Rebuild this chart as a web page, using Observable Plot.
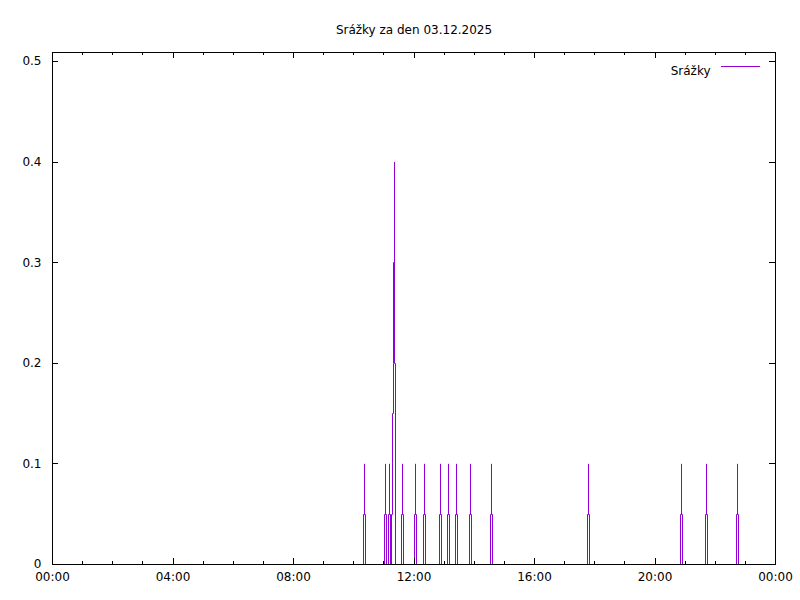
<!DOCTYPE html>
<html><head><meta charset="utf-8">
<script src="https://cdn.jsdelivr.net/npm/d3@7"></script>
<script src="https://cdn.jsdelivr.net/npm/@observablehq/plot@0.6"></script>
<style>body{margin:0;background:#fff}</style>
</head><body><div id="chart"></div>
<script>
// ---- data ----
const title = "Srážky za den 03.12.2025";
const seriesName = "Srážky";
// rain samples (every 2 minutes); only non-zero samples are listed, all other samples are 0
const eventTimes  = ["10:21","11:03","11:11","11:17","11:19","11:21","11:37","12:03","12:21","12:53","13:09","13:25","13:53","14:35","17:47","20:53","21:43","22:45"];
const eventValues = [0.1,   0.1,    0.1,    0.1,    0.2,    0.4,    0.1,    0.1,    0.1,    0.1,    0.1,    0.1,    0.1,    0.1,    0.1,    0.1,    0.1,    0.1];
const sampleStep = 2; // minutes
const dayStart = "00:00", dayEnd = "24:00";
const yTicks = [0, 0.1, 0.2, 0.3, 0.4, 0.5];
const yTickLabels = ["0", "0.1", "0.2", "0.3", "0.4", "0.5"];
const xMajorTicks = ["00:00","04:00","08:00","12:00","16:00","20:00","24:00"];
const xTickLabels = ["00:00","04:00","08:00","12:00","16:00","20:00","00:00"];
const xMinorTicks = ["01:00","02:00","03:00","05:00","06:00","07:00","09:00","10:00","11:00","13:00","14:00","15:00","17:00","18:00","19:00","21:00","22:00","23:00"];
const yMax = 0.509;

// ---- build ----
const toMin = s => { const [h, m] = s.split(":").map(Number); return h * 60 + m; };
const samples = new Map();
eventTimes.forEach((t, i) => samples.set(toMin(t), eventValues[i]));
for (const t of eventTimes.map(toMin)) {
  for (const n of [t - sampleStep, t + sampleStep]) if (!samples.has(n)) samples.set(n, 0);
}
if (!samples.has(toMin(dayStart))) samples.set(toMin(dayStart), 0);
samples.set(toMin(dayEnd) - sampleStep, 0);
const series = [...samples].map(([t, v]) => ({t, v})).sort((a, b) => a.t - b.t);

// pixel-raster style line (like gnuplot's aliased lines): each segment is drawn as
// a vertical run at the start column up to the midpoint, then at the end column
function rasterCurve(context) {
  let x0, y0, started = false;
  const snap = v => Math.round(v);
  return {
    areaStart() {}, areaEnd() {},
    lineStart() { started = false; },
    lineEnd() {},
    point(x, y) {
      x = snap(x);
      if (!started) { context.moveTo(x, y); started = true; }
      else if (x === x0) { context.lineTo(x, y); }
      else {
        const m = snap((y0 + y) / 2);
        context.lineTo(x0, m); context.lineTo(x, m); context.lineTo(x, y);
      }
      x0 = x; y0 = y;
    }
  };
}

const W = 800, H = 600, mL = 52, mR = 25, mT = 52, mB = 36;
const fw = W - mL - mR, fh = H - mT - mB;
const purple = "#9400d3";
const major = 6, minor = 3;

const xLab = xMajorTicks.map((t, i) => ({t: toMin(t), label: xTickLabels[i]}));
const yLab = yTicks.map((v, i) => ({v, label: yTickLabels[i]}));

const chart = Plot.plot({
  width: W, height: H,
  marginLeft: mL, marginRight: mR, marginTop: mT, marginBottom: mB,
  style: {fontFamily: "'DejaVu Sans', sans-serif", fontSize: "12px", color: "#000", background: "#fff", overflow: "visible"},
  x: {type: "linear", domain: [toMin(dayStart), toMin(dayEnd)], axis: null},
  y: {domain: [0, yMax], axis: null},
  marks: [
    Plot.line(series, {x: "t", y: "v", stroke: purple, strokeWidth: 1, curve: rasterCurve, strokeLinejoin: "miter", strokeLinecap: "butt"}),
    // x ticks bottom/top (inward)
    Plot.ruleX(xMajorTicks.map(toMin), {x: d => d, insetTop: fh - major, stroke: "#000", shapeRendering: "crispEdges"}),
    Plot.ruleX(xMajorTicks.map(toMin), {x: d => d, insetBottom: fh - major, stroke: "#000", shapeRendering: "crispEdges"}),
    Plot.ruleX(xMinorTicks.map(toMin), {x: d => d, insetTop: fh - minor, stroke: "#000", shapeRendering: "crispEdges"}),
    Plot.ruleX(xMinorTicks.map(toMin), {x: d => d, insetBottom: fh - minor, stroke: "#000", shapeRendering: "crispEdges"}),
    // y ticks left/right (inward)
    Plot.ruleY(yTicks, {y: d => d, insetRight: fw - major, stroke: "#000", shapeRendering: "crispEdges"}),
    Plot.ruleY(yTicks, {y: d => d, insetLeft: fw - major, stroke: "#000", shapeRendering: "crispEdges"}),
    Plot.frame({stroke: "#000"}),
    Plot.text(xLab, {x: "t", text: "label", frameAnchor: "bottom", dy: 16, fill: "#000"}),
    Plot.text(yLab, {y: "v", text: "label", frameAnchor: "left", dx: -11, textAnchor: "end", fill: "#000"}),
    Plot.text([title], {text: d => d, frameAnchor: "top", dy: -27, fill: "#000"}),
    Plot.text([seriesName], {text: d => d, frameAnchor: "top-right", dx: -65, dy: 14, textAnchor: "end", fill: "#000"})
  ]
});

// legend sample line
d3.select(chart).append("line")
  .attr("x1", W - mR - 54).attr("x2", W - mR - 15)
  .attr("y1", mT + 14).attr("y2", mT + 14)
  .attr("stroke", purple).attr("stroke-width", 1).attr("shape-rendering", "crispEdges");

document.getElementById("chart").append(chart);
</script>
</body></html>
